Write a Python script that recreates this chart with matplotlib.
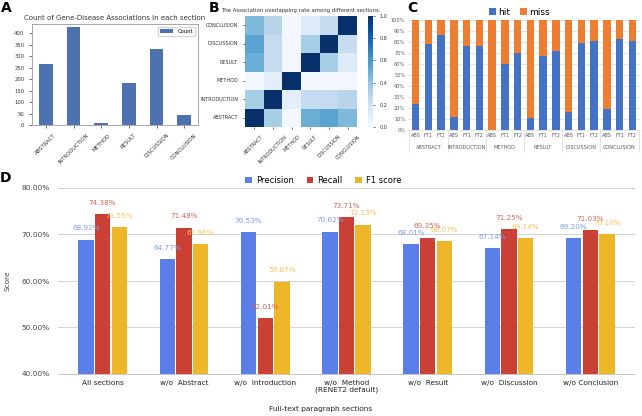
import matplotlib
matplotlib.use("Agg")
import matplotlib.pyplot as plt
import numpy as np
import seaborn as sns
from matplotlib.transforms import blended_transform_factory

# ---- data ----
sections = ["ABSTRACT", "INTRODUCTION", "METHOD", "RESULT", "DISCUSSION", "CONCLUSION"]
counts = [265, 426, 10, 181, 332, 45]

overlap = [
    [1.00, 0.35, 0.02, 0.50, 0.55, 0.45],
    [0.35, 1.00, 0.10, 0.25, 0.25, 0.30],
    [0.02, 0.10, 1.00, 0.03, 0.03, 0.03],
    [0.50, 0.25, 0.03, 1.00, 0.35, 0.13],
    [0.55, 0.25, 0.03, 0.35, 1.00, 0.24],
    [0.45, 0.30, 0.02, 0.13, 0.24, 1.00],
]

sub_labels = ["ABS", "FT1", "FT2"]
hit = [24, 78, 86, 12, 76, 76, 0, 60, 70, 11, 67, 72, 16, 79, 81, 19, 83, 81]

d_cats = ["All sections", "w/o  Abstract", "w/o  Introduction",
          "w/o  Method\n(RENET2 default)", "w/o  Result", "w/o  Discussion", "w/o Conclusion"]
precision = [68.92, 64.77, 70.53, 70.62, 68.01, 67.14, 69.20]
recall = [74.38, 71.48, 52.01, 73.71, 69.35, 71.25, 71.03]
f1 = [71.55, 67.96, 59.87, 72.13, 68.67, 69.14, 70.10]

W, H = 642, 416
fig = plt.figure(figsize=(W / 100, H / 100), dpi=100)


def rect(l, t, r, b):
    return [l / W, 1 - b / H, (r - l) / W, (b - t) / H]


# ---- panel A ----
axA = fig.add_axes(rect(32, 24, 198, 125))
xa = np.arange(len(sections))
axA.bar(xa, counts, width=0.5, color="#4c72b0", label="Count")
axA.set_xlim(-0.5, len(sections) - 0.5)
axA.set_ylim(0, 440)
axA.set_yticks(range(0, 401, 50))
axA.set_xticks(xa)
axA.set_xticklabels(sections, rotation=45, fontsize=3.8, color="#333333")
axA.tick_params(axis="y", labelsize=3.8, labelcolor="#333333", length=2, width=0.4)
axA.tick_params(axis="x", length=2, width=0.4)
for s in axA.spines.values():
    s.set_color("#999999")
    s.set_linewidth(0.6)
axA.set_title("Count of Gene-Disease Associations in each section", fontsize=5, color="#333333", pad=3)
axA.legend(fontsize=3.8, loc="upper right", handlelength=2.5, frameon=True, edgecolor="#cccccc")

# ---- panel B ----
axB = fig.add_axes(rect(245, 16, 357, 127))
caxB = fig.add_axes(rect(368, 16, 373, 127))
sns.heatmap(np.array(overlap), ax=axB, cbar_ax=caxB, cmap="Blues", vmin=0, vmax=1,
            xticklabels=sections, yticklabels=sections)
axB.invert_yaxis()
axB.set_xticklabels(sections, rotation=45, fontsize=3.5, color="#333333")
axB.set_yticklabels(sections, rotation=0, fontsize=3.5, color="#333333")
axB.tick_params(length=1.5, width=0.4)
axB.set_title("The Association overlapping rate among different sections.", fontsize=3.9,
              color="#333333", pad=3)
caxB.tick_params(labelsize=3.5, length=1.5, width=0.4, labelcolor="#333333")
caxB.set_yticks([0, 0.2, 0.4, 0.6, 0.8, 1.0])
caxB.set_yticklabels(["0.0", "0.2", "0.4", "0.6", "0.8", "1.0"])

# ---- panel C ----
axC = fig.add_axes(rect(408, 20, 640, 130))
xc = np.arange(len(hit))
hit_f = np.array(hit) / 100
miss_f = 1 - hit_f
axC.bar(xc, hit_f, width=0.58, color="#4472c4", label="hit", zorder=3)
axC.bar(xc, miss_f, bottom=hit_f, width=0.58, color="#ed7d31", label="miss", zorder=3)
axC.set_xlim(-0.6, len(hit) - 0.4)
axC.set_ylim(0, 1)
axC.set_yticks(np.arange(0, 1.01, 0.1))
axC.set_yticklabels([f"{int(v)}%" for v in range(0, 101, 10)])
axC.yaxis.grid(True, color="#d9d9d9", linewidth=0.5, zorder=0)
axC.tick_params(axis="y", length=0, labelsize=3.6, labelcolor="#595959", pad=2)
axC.set_xticks(xc)
axC.set_xticklabels(sub_labels * len(sections), fontsize=3.6, color="#595959")
axC.tick_params(axis="x", length=0, pad=2)
for s in axC.spines.values():
    s.set_visible(False)
axC.spines["bottom"].set_visible(True)
axC.spines["bottom"].set_color("#d9d9d9")
axC.spines["bottom"].set_linewidth(0.5)
trC = blended_transform_factory(axC.transData, axC.transAxes)
for i, name in enumerate(sections):
    axC.text(3 * i + 1, -0.155, name, transform=trC, ha="center", va="center",
             fontsize=3.6, color="#595959")
for i in range(len(sections) + 1):
    xb = 3 * i - 0.5
    axC.plot([xb, xb], [0, -0.2], transform=trC, color="#d9d9d9", linewidth=0.5, clip_on=False)
axC.legend(loc="lower center", bbox_to_anchor=(0.48, 0.98), ncol=2, fontsize=6.5, frameon=False,
           handlelength=0.8, handleheight=0.8, handletextpad=0.3, columnspacing=1.0,
           borderpad=0.1)

# ---- panel D ----
axD = fig.add_axes(rect(58, 188, 635, 374))
xd = np.arange(len(d_cats))
bw = 0.19
off = 0.205
series = [("Precision", precision, "#5a7fe9", "#7f9de8"),
          ("Recall", recall, "#cb4034", "#d2665c"),
          ("F1 score", f1, "#eeb72a", "#f0c45a")]
for k, (name, vals, col, lcol) in enumerate(series):
    pos = xd + (k - 1) * off
    axD.bar(pos, np.array(vals) - 40, bottom=40, width=bw, color=col, label=name, zorder=3)
    for p, v in zip(pos, vals):
        axD.text(p, v + 2.4, f"{v:.2f}%", ha="center", va="center", fontsize=5.2, color=lcol,
                 zorder=4)
axD.set_xlim(-0.55, len(d_cats) - 0.45)
axD.set_ylim(40, 80)
axD.set_yticks([40, 50, 60, 70, 80])
axD.set_yticklabels(["40.00%", "50.00%", "60.00%", "70.00%", "80.00%"])
axD.yaxis.grid(True, color="#cccccc", linewidth=0.6, zorder=0)
axD.tick_params(axis="y", length=0, labelsize=5.3, labelcolor="#444444", pad=6)
axD.set_xticks(xd)
axD.set_xticklabels(d_cats, fontsize=5.3, color="#222222", va="top")
axD.tick_params(axis="x", length=0, pad=4)
for s in axD.spines.values():
    s.set_visible(False)
axD.spines["bottom"].set_visible(True)
axD.spines["bottom"].set_color("#bbbbbb")
axD.spines["bottom"].set_linewidth(0.6)
axD.set_ylabel("Score", fontsize=5.3, color="#444444", labelpad=8)
axD.text(0.455, -0.19, "Full-text paragraph sections", transform=axD.transAxes,
         ha="center", va="center", fontsize=5.3, color="#222222")
axD.legend(loc="lower center", bbox_to_anchor=(0.46, 0.99), ncol=3, fontsize=6, frameon=False,
           handlelength=0.8, handleheight=0.8, handletextpad=0.5, columnspacing=1.5,
           borderpad=0.1)

# ---- panel letters ----
for lab, x, y in [("A", 6, 8), ("B", 214, 8), ("C", 412, 8), ("D", 6, 178)]:
    fig.text(x / W, 1 - y / H, lab, fontsize=10, fontweight="bold", ha="center", va="center")

fig.savefig("out.png", dpi=100)
